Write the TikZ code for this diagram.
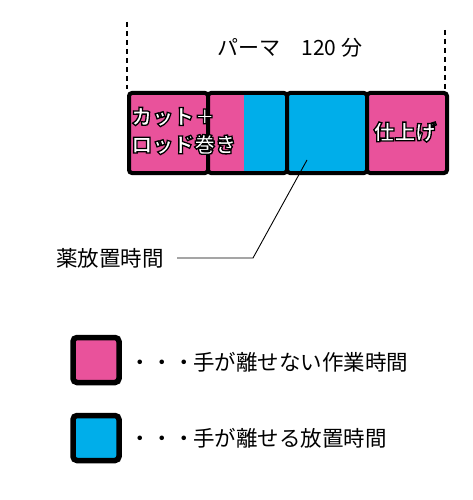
\documentclass[tikz,border=0pt]{standalone}
\usepackage{fontspec}
\setmainfont{Noto Sans CJK JP}
\definecolor{cpink}{HTML}{E9529B}
\definecolor{cblue}{HTML}{00AEEA}
\newcommand{\outl}[1]{\textcolor{white}{\special{pdf:code 1 g 0 G 2 Tr 1.3 w}#1\special{pdf:code 0 Tr}}}
\begin{document}
\begin{tikzpicture}[x=1pt,y=-1pt,
  seg/.style={draw=black, line width=4pt, rounded corners=3pt, inner sep=0pt, anchor=north west},
  leg/.style={draw=black, line width=5.5pt, rounded corners=4pt, inner sep=0pt, minimum width=46pt, minimum height=45pt},
  txt/.style={font=\fontsize{21.5}{24}\selectfont, text=black, inner sep=0pt},
  wtxt/.style={font=\bfseries\fontsize{21}{28}\selectfont, inner sep=0pt, align=left},
  dash line/.style={line width=1.5pt, dash pattern=on 5pt off 4pt}]
\useasboundingbox (0,0) rectangle (472,500);
% dashed guides
\coordinate (dl1) at (127,22);
\coordinate (dl2) at (127,89);
\coordinate (dr1) at (445,30);
\coordinate (dr2) at (445,89);
\draw[dash line] (dl1) -- (dl2);
\draw[dash line] (dr1) -- (dr2);
\node[txt, font=\fontsize{21}{24}\selectfont] (title) at (290,48) {パーマ　120 分};
% bar segments
\node[seg, fill=cpink, minimum width=79pt, minimum height=80pt] (s1) at (127,91) {};
\node[seg, fill=cpink, minimum width=79pt, minimum height=80pt,
  path picture={\fill[cblue] ([xshift=36pt]path picture bounding box.south west) rectangle (path picture bounding box.north east);}] (s2) at (206,91) {};
\node[seg, fill=cblue, minimum width=80pt, minimum height=80pt] (s3) at (285,91) {};
\node[seg, fill=cpink, minimum width=80pt, minimum height=80pt] (s4) at (365,91) {};
\node[wtxt, anchor=west] (t1) at (131,131) {\outl{カット＋}\\\outl{ロッド巻き}};
\node[wtxt] (t4) at (405,132) {\outl{仕上げ}};
% leader
\coordinate (lp) at (307,160);
\coordinate (lk) at (253,258);
\node[txt, anchor=east] (lab) at (164,258) {薬放置時間};
\coordinate (le) at (177,258);
\draw[line width=0.9pt] (lp) -- (lk) -- (le);
% legend
\node[leg, fill=cpink] (k1) at (96,360) {};
\node[leg, fill=cblue] (k2) at (96,438) {};
\node[txt, anchor=west] (k1t) at (129.3,362) {・\hspace{0.5pt}・\hspace{0.5pt}・\hspace{-1.7pt}手が離せない作業時間};
\node[txt, anchor=west] (k2t) at (129.3,438) {・\hspace{0.5pt}・\hspace{0.5pt}・\hspace{-1.7pt}手が離せる放置時間};
\end{tikzpicture}
\end{document}
